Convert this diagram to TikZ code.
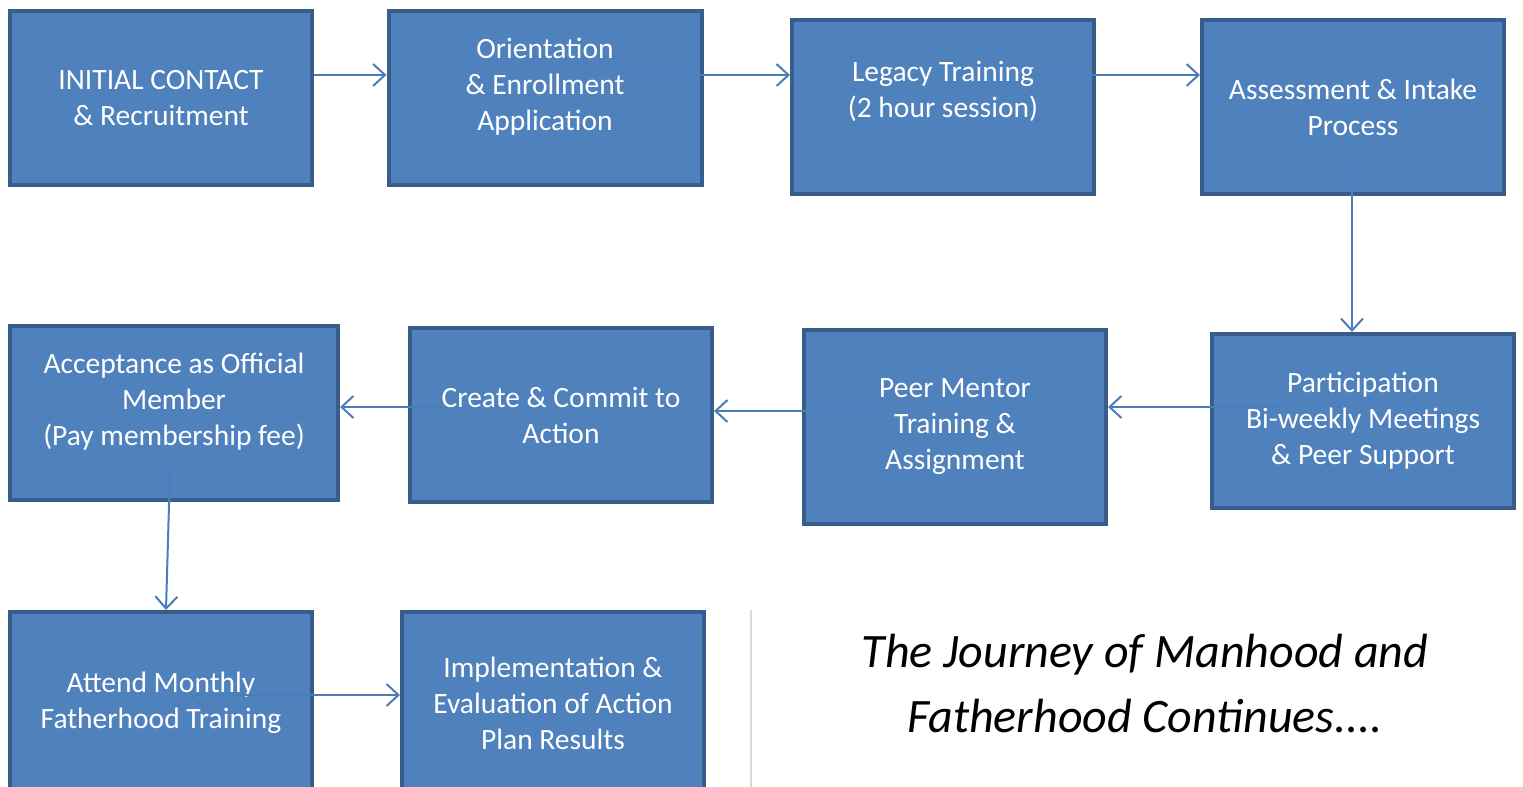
\documentclass[tikz,border=0pt]{standalone}
\usepackage{fontspec}
\setmainfont{Carlito}
\usetikzlibrary{arrows.meta}
\definecolor{boxfill}{HTML}{4F81BD}
\definecolor{boxline}{HTML}{385D8A}
\definecolor{flowline}{HTML}{4A7EBB}
\definecolor{rulegray}{HTML}{D9D9D9}

\begin{document}
\begin{tikzpicture}[x=0.5pt,y=-0.5pt,>={Straight Barb[length=6pt,width=11pt]},
  box/.style={draw=boxline,fill=boxfill,line width=2pt,text=white,align=center,
    minimum width=151pt,minimum height=87pt,inner sep=2pt,
    font=\fontsize{14.75pt}{18pt}\selectfont},
  flow/.style={->,draw=flowline,line width=1pt}]
  \useasboundingbox (0,0) rectangle (1523,787);

  \node[box]                       (b1) at (161,98)  {INITIAL CONTACT\\ \& Recruitment};
  \node[box,minimum width=156.5pt] (b2) at (545,98)  {Orientation\\ \& Enrollment\\ Application\\[-4pt] \mbox{}};
  \node[box]                       (b3) at (943,107) {Legacy Training\\ (2 hour session)\\ \mbox{}};
  \node[box]                       (b4) at (1353,107){Assessment \& Intake\\ Process};

  \node[box]                       (b8) at (1363,421){Participation\\ Bi-weekly Meetings\\ \& Peer Support};
  \node[box,minimum height=97pt]   (b7) at (955,427) {Peer Mentor\\ Training \&\\ Assignment};
  \node[box]                       (b6) at (561,415) {Create \& Commit to\\ Action};
  \node[box,minimum width=164pt]   (b5) at (174,413) {Acceptance as Official\\ Member\\ (Pay membership fee)\\[-4pt] \mbox{}};

  % bottom row runs off the page
  \node[box,minimum height=91pt]   (b9) at (161,703) {Attend Monthly\\ Fatherhood Training};
  \node[box,minimum height=91pt]   (b10) at (553,703){Implementation \&\\ Evaluation of Action\\ Plan Results};

  \node[font=\fontsize{24pt}{32.5pt}\selectfont\itshape,align=center] (tag) at (1145,684)
    {The Journey of Manhood and\\ Fatherhood Continues....};
  \draw[rulegray,line width=0.75pt] (751,610) -- (751,787);

  \path[flow] ([yshift=11.5pt]b1.east) edge ([yshift=11.5pt]b2.west)
        ([xshift=40.5pt,yshift=11.5pt]b2.center) edge ([yshift=16pt]b3.west)
        ([xshift=43.5pt,yshift=16pt]b3.center) edge ([yshift=16pt]b4.west)
        ([xshift=-0.5pt,yshift=-26.5pt]b4.center) edge ([xshift=-5.5pt]b8.north)
        ([xshift=-39.5pt,yshift=7pt]b8.center) edge ([yshift=10pt]b7.east)
        ([xshift=-31pt,yshift=8pt]b7.center) edge ([yshift=2pt]b6.east)
        ([xshift=-60pt,yshift=4pt]b6.center) edge ([yshift=3pt]b5.east)
        ([xshift=-2pt,yshift=-28.5pt]b5.center) edge ([xshift=2.5pt]b9.north)
        ([xshift=16.5pt,yshift=4pt]b9.center) edge ([yshift=4pt]b10.west);
\end{tikzpicture}
\end{document}
